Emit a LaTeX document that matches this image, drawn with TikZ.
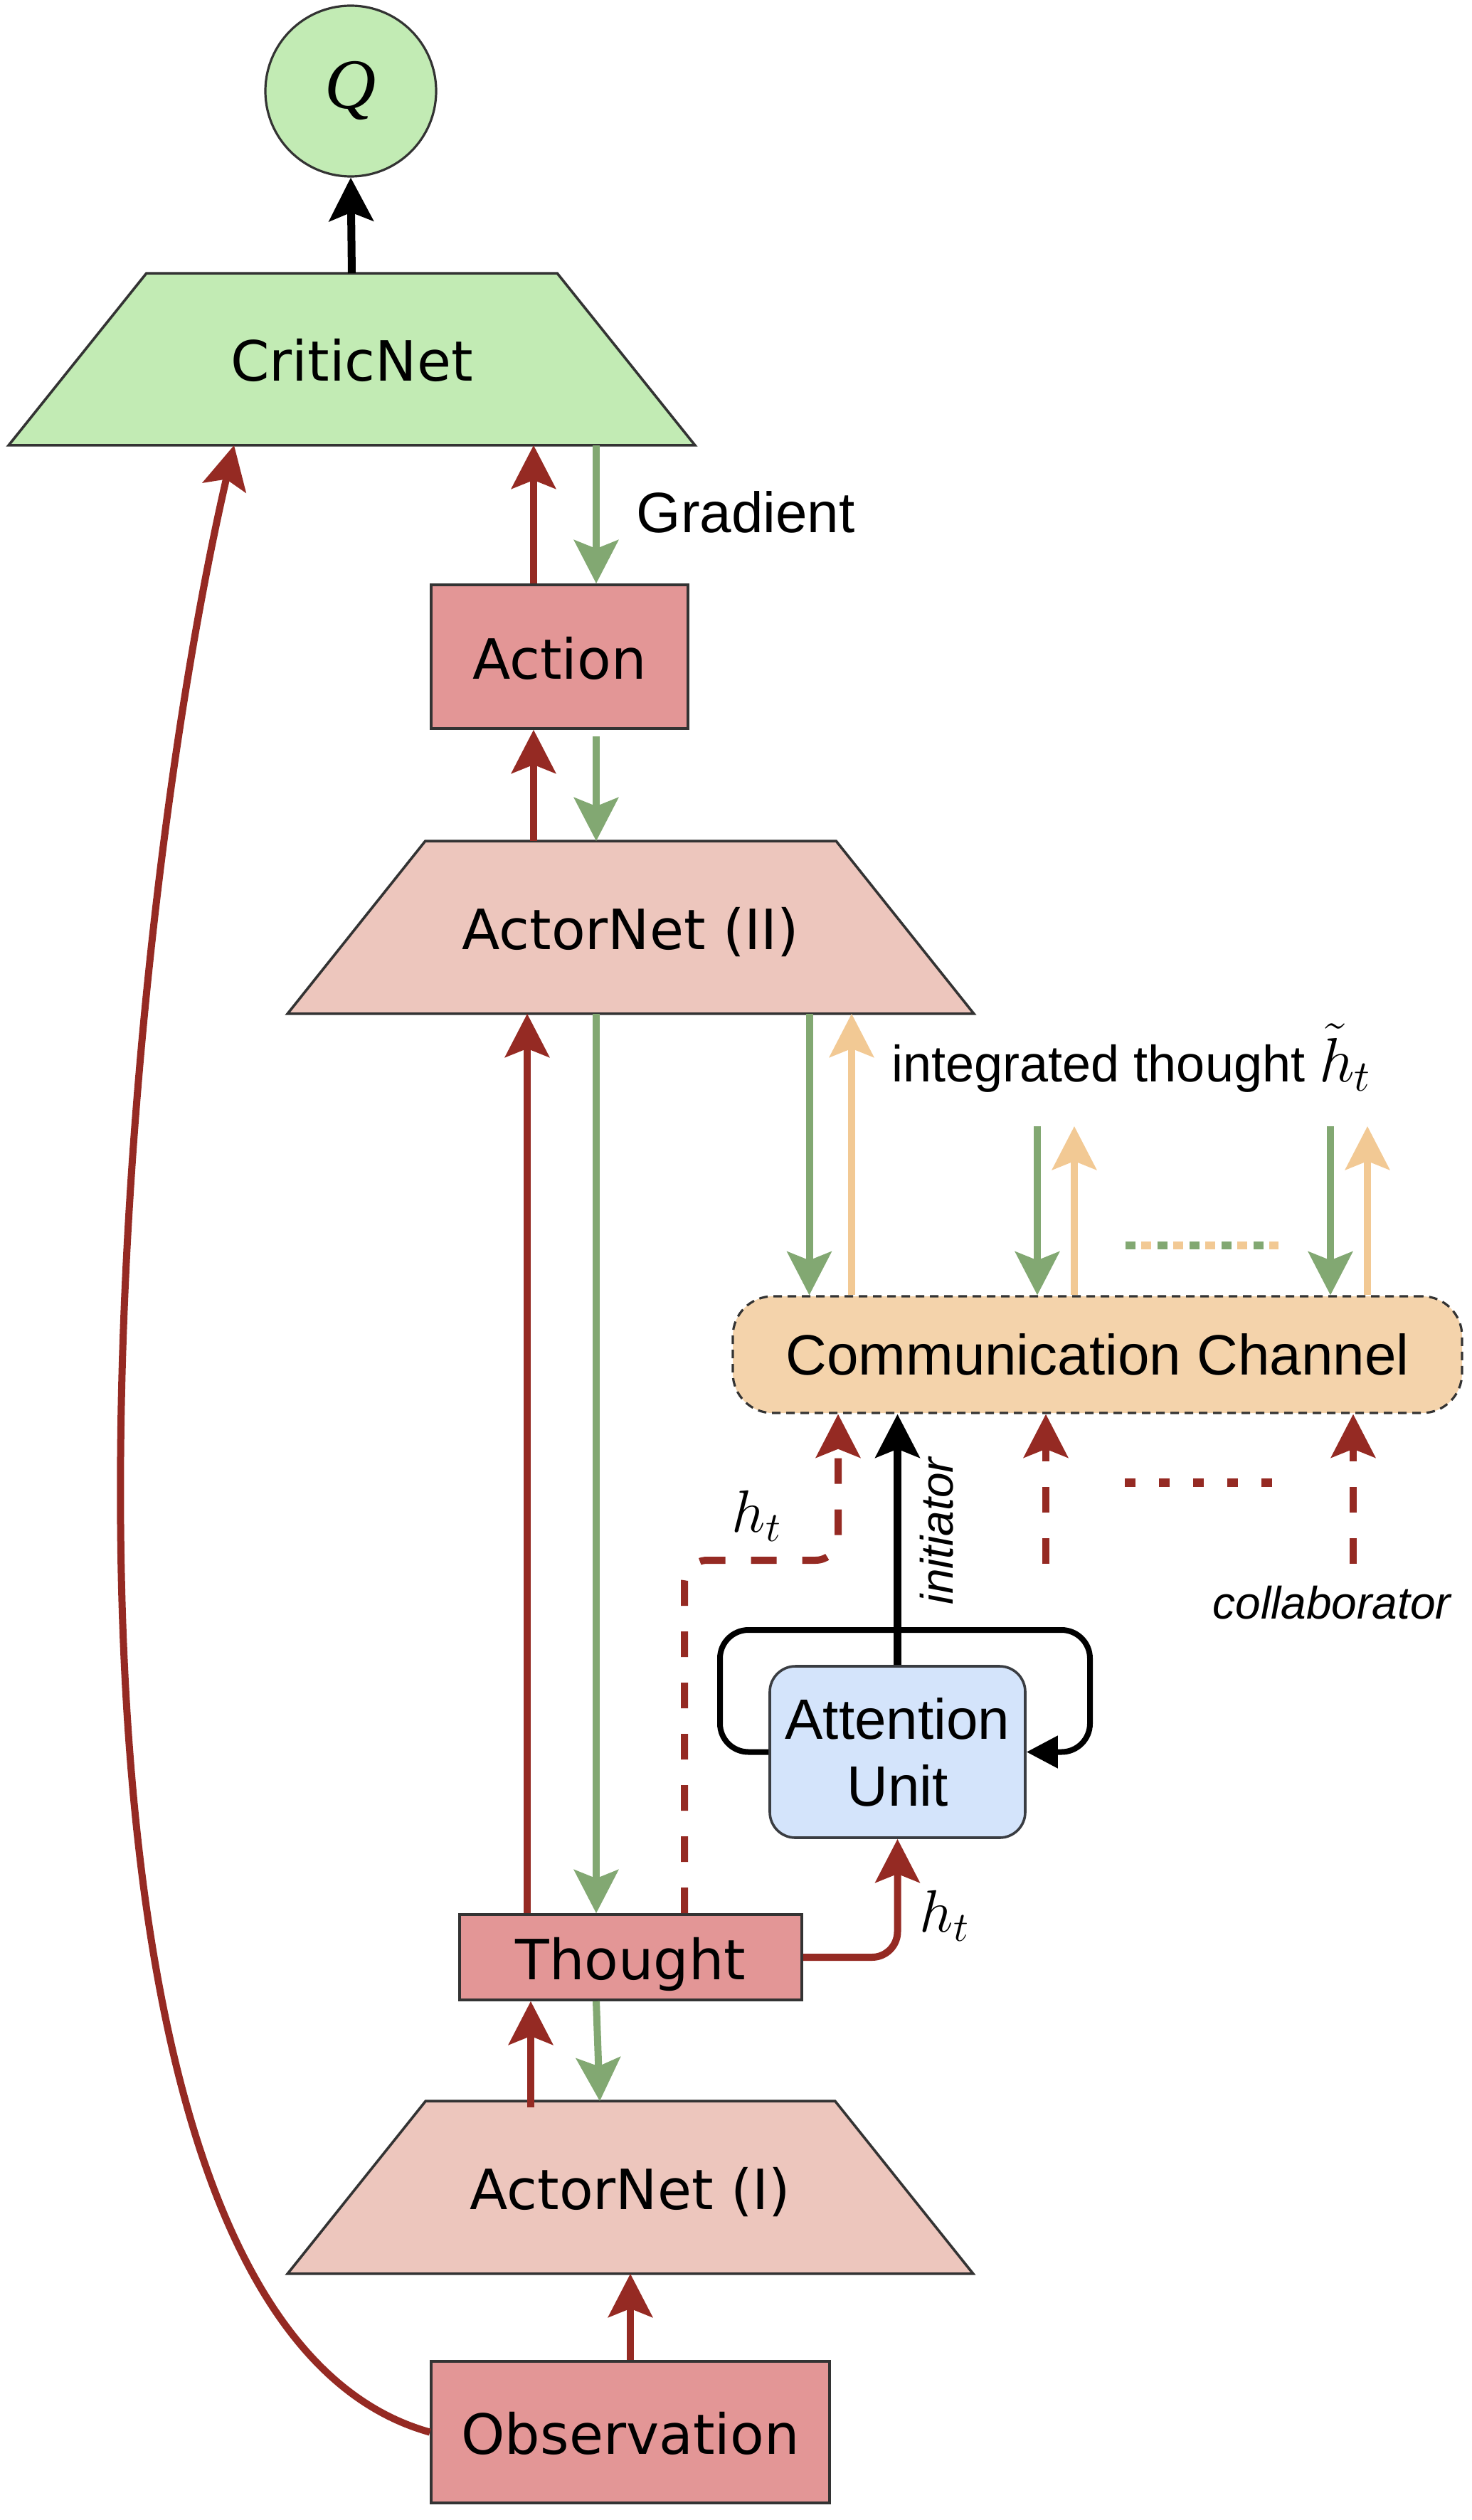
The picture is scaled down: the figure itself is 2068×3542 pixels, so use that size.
\RequirePackage{fix-cm}
\documentclass[tikz,border=0pt]{standalone}
\usepackage{fontspec}
\setmainfont{Liberation Sans}
\newfontfamily\verd{DejaVu Sans}
\newfontfamily\tms{Liberation Serif}
\usetikzlibrary{arrows.meta,backgrounds,calc}
\definecolor{cgreenfill}{HTML}{C2EBB4}
\definecolor{cpink}{HTML}{E39696}
\definecolor{cactor}{HTML}{EDC6BD}
\definecolor{cpeach}{HTML}{F4D3AB}
\definecolor{cblue}{HTML}{D4E4FB}
\definecolor{cred}{HTML}{952A23}
\definecolor{cgreen}{HTML}{82A872}
\definecolor{corange}{HTML}{F2C994}
\definecolor{cborder}{HTML}{333333}
\definecolor{cauborder}{HTML}{3A3D42}
\newcommand\drawtrap[3]{%
  \begin{scope}[on background layer]
  \draw[draw=cborder,line width=0.9pt,fill=#3,line join=miter] (#1.south west) -- (#1.south east) -- ($(#1.north east)+(-#2,0)$) -- ($(#1.north west)+(#2,0)$) -- cycle;
  \end{scope}}
\begin{document}
\begin{tikzpicture}[x=0.25pt,y=-0.25pt,
  lab/.style={inner sep=0pt, text height=15.5pt, text depth=0pt, font=\verd\fontsize{19.5pt}{23pt}\selectfont},
  pinkbox/.style={lab, draw=cborder, line width=0.9pt, fill=cpink},
  trapbox/.style={lab},
  bigtip/.style={-{Stealth[length=15.25pt,width=15.5pt,inset=3pt]}},
  redarr/.style={draw=cred, line width=2.5pt, bigtip},
  grnarr/.style={draw=cgreen, line width=2.5pt, bigtip},
  orgarr/.style={draw=corange, line width=2.5pt, bigtip},
  blkarr/.style={draw=black, line width=2.75pt, bigtip},
  reddash/.style={redarr, dash pattern=on 9pt off 9pt},
  mathlbl/.style={inner sep=0pt, font=\fontsize{21pt}{25pt}\selectfont},
  itlbl/.style={inner sep=0pt, font=\itshape\fontsize{16pt}{19pt}\selectfont}
]
\useasboundingbox (0,0) rectangle (2068,3542);

% nodes
\node[circle, draw=cborder, line width=0.8pt, fill=cgreenfill, minimum size=60pt, inner sep=0pt] (Q) at (493,128) {\tms\itshape\fontsize{25pt}{27pt}\selectfont Q};
\node[trapbox, minimum width=240.75pt, minimum height=60pt] (critic) at (494.5,505) {CriticNet};
\node[pinkbox, minimum width=90.25pt, minimum height=50.5pt] (action) at (786.5,923) {Action};
\node[trapbox, minimum width=240.75pt, minimum height=60.25pt] (actor2) at (886.5,1303.5) {ActorNet (II)};
\node[pinkbox, minimum width=120.25pt, minimum height=30pt] (thought) at (886.5,2751) {Thought};
\node[trapbox, minimum width=240.5pt, minimum height=60.25pt] (actor1) at (886,3074.5) {ActorNet (I)};
\node[pinkbox, minimum width=140pt, minimum height=49.75pt] (obs) at (886,3418.5) {Observation};
\node[draw=cborder, line width=0.8pt, dash pattern=on 3pt off 2pt, fill=cpeach, rounded corners=14pt, minimum width=256.25pt, minimum height=41pt, inner sep=0pt, font=\fontsize{20pt}{24pt}\selectfont] (comm) at (1542.5,1904) {Communication Channel};
\node[draw=cauborder, line width=0.9pt, fill=cblue, rounded corners=9pt, minimum width=89.75pt, minimum height=60.25pt, inner sep=0pt, align=center, font=\fontsize{20pt}{23.5pt}\selectfont] (au) at (1261.5,2462.5) {Attention\\Unit};

\drawtrap{critic}{193.5}{cgreenfill}
\drawtrap{actor2}{193.5}{cactor}
\drawtrap{actor1}{194}{cactor}

% x positions
\coordinate (xA) at (750,0);
\coordinate (xG) at (838,0);
\coordinate (xT) at (741,0);
\coordinate (xC) at (329,0);
\coordinate (xc1) at (1137.5,0);
\coordinate (xo1) at (1197,0);
\coordinate (x1) at (746,0);
\coordinate (xg2) at (843,0);
\coordinate (g2) at (1458,1583);
\coordinate (o2) at (1510,1583);
\coordinate (g3) at (1870,1583);
\coordinate (o3) at (1922,1583);
\coordinate (d1) at (962,2193);
\coordinate (d2) at (1178,2193);
\coordinate (l1) at (1012,2291);
\coordinate (l2) at (1532,2291);
\coordinate (c1) at (1470,2198);
\coordinate (c2) at (1902,2198);

% connectors
\draw[blkarr] (critic.north) -- (Q.south);
\draw[redarr] (action.north -| xA) -- (critic.south -| xA);
\draw[grnarr] (critic.south -| xG) -- (action.north -| xG);
\draw[redarr] (actor2.north -| xA) -- (action.south -| xA);
\draw[grnarr] ($(action.south -| xG)+(0,9)$) -- (actor2.north -| xG);
\draw[redarr] (thought.north -| xT) -- (actor2.south -| xT);
\draw[grnarr] (actor2.south -| xG) -- (thought.north -| xG);
\draw[grnarr] (actor2.south -| xc1) -- (comm.north -| xc1);
\draw[orgarr] (comm.north -| xo1) -- (actor2.south -| xo1);
\draw[grnarr] (g2) -- (comm.north -| g2);
\draw[orgarr] (comm.north -| o2) -- (o2);
\draw[grnarr] (g3) -- (comm.north -| g3);
\draw[orgarr] (comm.north -| o3) -- (o3);
\draw[cgreen, line width=2.75pt, dash pattern=on 3.5pt off 7.75pt] (1582,1750) -- (1797,1750);
\draw[corange, line width=2.75pt, dash pattern=on 3.5pt off 7.75pt] (1604,1750) -- (1797,1750);

\draw[redarr, rounded corners=9pt] (thought.east) -| (au.south);
\draw[reddash, rounded corners=8pt] (thought.north -| d1) -- (d1) -- (d2) -- (comm.south -| d2);
\draw[blkarr] (au.north) -- (comm.south -| au.north);
\draw[black, line width=2pt, rounded corners=10pt, -{Triangle[length=11pt,width=11pt]}] (au.west) -| (l1) -- (l2) |- (au.east);
\draw[reddash] (c1) -- (comm.south -| c1);
\draw[reddash] (c2) -- (comm.south -| c2);
\draw[cred, line width=3pt, dash pattern=on 3.75pt off 8.25pt] (1581,2084) -- (1790,2084);

\draw[redarr] ($(actor1.north -| x1)+(0,9)$) -- (thought.south -| x1);
\draw[grnarr] (thought.south -| xG) -- (actor1.north -| xg2);
\draw[redarr] (obs.north) -- (actor1.south);
\draw[redarr] (obs.west) .. controls (0,3250) and (150,1400) .. (critic.south -| xC);

% labels
\node[anchor=base west, inner sep=0pt, font=\fontsize{20pt}{24pt}\selectfont] (gradlbl) at (894,748) {Gradient};
\node[anchor=base west, inner sep=0pt, font=\fontsize{18pt}{22pt}\selectfont] (intlbl) at (1253,1520) {integrated thought {\fontsize{22pt}{25pt}\selectfont$\tilde{h}_t$}};
\node[mathlbl] (ht1) at (1064,2131) {$h_t$};
\node[mathlbl] (ht2) at (1328,2693) {$h_t$};
\node[itlbl, rotate=90] (init) at (1317,2152) {initiator};
\node[itlbl, anchor=base] (collab) at (1872,2275) {collaborator};
\end{tikzpicture}
\end{document}
